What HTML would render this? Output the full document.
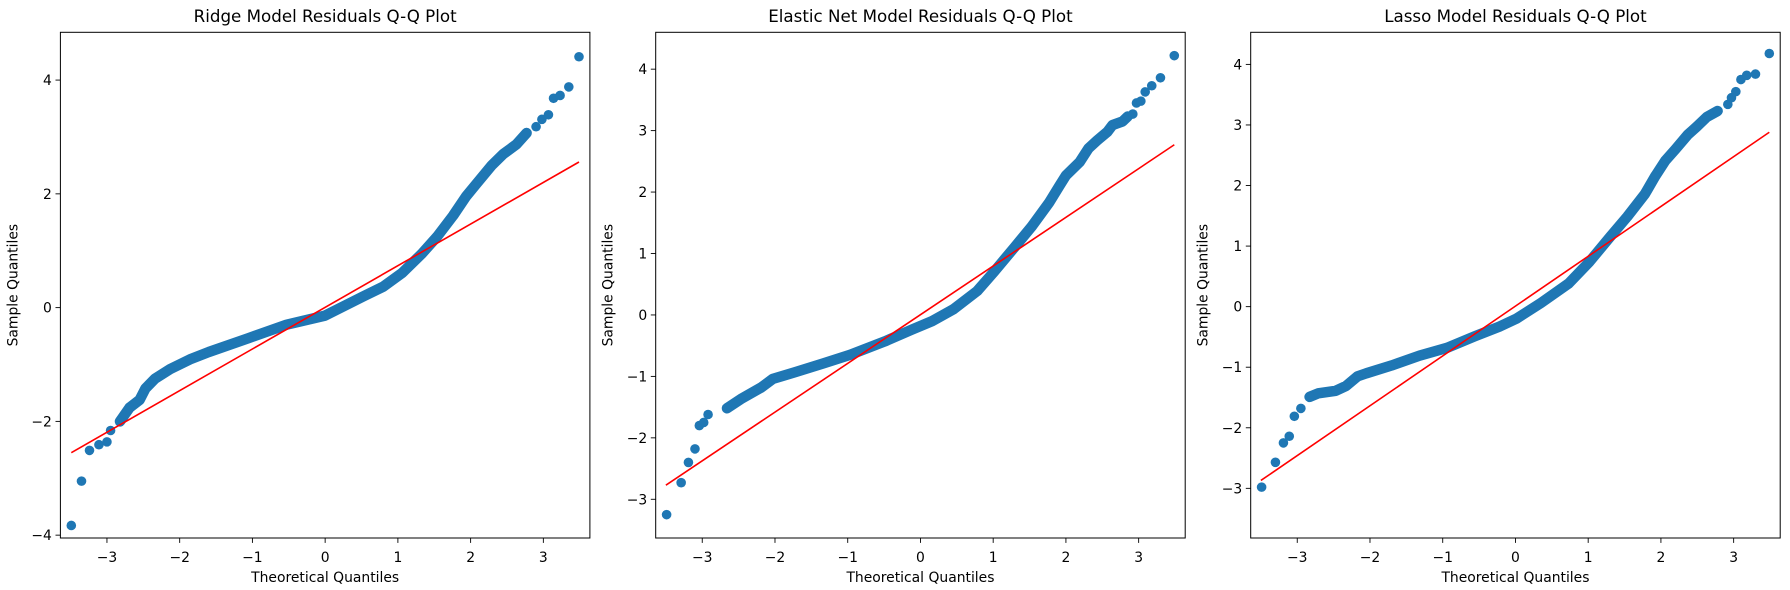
<!DOCTYPE html>
<html><head><meta charset="utf-8"><style>
html,body{margin:0;padding:0;background:#fff;}
svg{display:block;font-family:"DejaVu Sans","Liberation Sans",sans-serif;}
</style></head><body>
<svg id="fig" width="1790" height="590" viewBox="0 0 1790 590" xmlns="http://www.w3.org/2000/svg"></svg>
<script>
// ---- data ----
const panelTitles = ["Ridge Model Residuals Q-Q Plot","Elastic Net Model Residuals Q-Q Plot","Lasso Model Residuals Q-Q Plot"];
const panelNames = ["ridge","elastic-net","lasso"];
const xTicks = [-3,-2,-1,0,1,2,3];
const yTicksRidge = [-4,-2,0,2,4];
const yTicksElastic = [-3,-2,-1,0,1,2,3,4];
const yTicksLasso = [-3,-2,-1,0,1,2,3,4];
const ridgeX = [-3.49,-3.35,-3.24,-3.11,-3.0,-2.95,-2.82,-2.69,-2.55,-2.47,-2.34,-2.13,-1.86,-1.60,-1.06,-0.53,0,0.53,0.80,1.06,1.33,1.54,1.76,1.94,2.07,2.29,2.45,2.63,2.77,2.90,2.98,3.07,3.14,3.23,3.35,3.49];
const ridgeY = [-3.83,-3.05,-2.51,-2.41,-2.36,-2.16,-2.0,-1.76,-1.62,-1.42,-1.25,-1.08,-0.91,-0.78,-0.54,-0.30,-0.14,0.2,0.37,0.61,0.95,1.25,1.62,1.96,2.16,2.5,2.7,2.87,3.07,3.18,3.31,3.39,3.68,3.73,3.88,4.41];
const elasticX = [-3.49,-3.29,-3.19,-3.1,-3.04,-2.98,-2.92,-2.66,-2.47,-2.19,-2.03,-1.72,-1.34,-0.97,-0.49,-0.12,0.16,0.45,0.78,1.01,1.30,1.53,1.77,1.91,2.0,2.19,2.31,2.43,2.57,2.64,2.78,2.85,2.92,2.97,3.03,3.09,3.18,3.30,3.49];
const elasticY = [-3.25,-2.73,-2.40,-2.18,-1.80,-1.75,-1.62,-1.52,-1.37,-1.18,-1.04,-0.93,-0.79,-0.65,-0.43,-0.24,-0.10,0.09,0.39,0.70,1.11,1.44,1.83,2.10,2.27,2.49,2.71,2.84,2.98,3.09,3.15,3.23,3.27,3.45,3.48,3.63,3.73,3.86,4.22];
const lassoX = [-3.49,-3.30,-3.19,-3.11,-3.04,-2.95,-2.83,-2.71,-2.47,-2.33,-2.17,-2.05,-1.70,-1.32,-0.94,-0.56,-0.22,0.01,0.35,0.73,1.01,1.30,1.54,1.78,1.92,2.06,2.20,2.37,2.49,2.63,2.78,2.92,2.97,3.03,3.10,3.18,3.30,3.49];
const lassoY = [-2.98,-2.57,-2.25,-2.14,-1.81,-1.68,-1.49,-1.43,-1.39,-1.31,-1.15,-1.10,-0.97,-0.81,-0.68,-0.49,-0.33,-0.20,0.06,0.38,0.73,1.15,1.49,1.86,2.15,2.41,2.60,2.84,2.97,3.13,3.23,3.34,3.45,3.55,3.75,3.82,3.84,4.18];
const ridgeLine = [-3.49,-2.55,3.49,2.56];
const elasticLine = [-3.5,-2.77,3.49,2.77];
const lassoLine = [-3.5,-2.87,3.49,2.88];

const NS="http://www.w3.org/2000/svg";
const svg=document.getElementById('fig');
function mk(tag,attrs,parent){const e=document.createElementNS(NS,tag);for(const k in attrs)e.setAttribute(k,attrs[k]);(parent||svg).appendChild(e);return e;}
const fmt=v=>v<0?"\u2212"+Math.abs(v):String(v);

const panels=[
 {left:60.4, xs:ridgeX, ys:ridgeY, line:ridgeLine, yt:yTicksRidge, ylim:[-4.05,4.84]},
 {left:655.7, xs:elasticX, ys:elasticY, line:elasticLine, yt:yTicksElastic, ylim:[-3.63,4.6]},
 {left:1250.7, xs:lassoX, ys:lassoY, line:lassoLine, yt:yTicksLasso, ylim:[-3.82,4.53]}
];
const W=529.5, TOP=32.3, BOT=538, XL=[-3.64,3.64];

panels.forEach((p,i)=>{
  const g=mk('g',{});
  
  
  const sx=v=>p.left+(v-XL[0])/(XL[1]-XL[0])*W;
  const sy=v=>BOT-(v-p.ylim[0])/(p.ylim[1]-p.ylim[0])*(BOT-TOP);
  const cx=p.left+W/2;
  const t=mk('text',{x:cx,y:22,'text-anchor':'middle','font-size':'16.7px',fill:'#000'},g);
  t.textContent=panelTitles[i];
  
  
  xTicks.forEach(v=>{
    const x=sx(v);
    const tk=mk('line',{x1:x,x2:x,y1:BOT,y2:BOT+4.9,stroke:'#000','stroke-width':0.9},g);
    
    
    const tl=mk('text',{x:x,y:BOT+24,'text-anchor':'middle','font-size':'13.9px',fill:'#000'},g);
    tl.textContent=fmt(v);
    
    
  });
  p.yt.forEach(v=>{
    const y=sy(v);
    const tk=mk('line',{x1:p.left-4.9,x2:p.left,y1:y,y2:y,stroke:'#000','stroke-width':0.9},g);
    
    
    const tl=mk('text',{x:p.left-8.5,y:y+5,'text-anchor':'end','font-size':'13.9px',fill:'#000'},g);
    tl.textContent=fmt(v);
    
    
  });
  const xl=mk('text',{x:cx,y:582,'text-anchor':'middle','font-size':'13.9px',fill:'#000'},g);
  xl.textContent='Theoretical Quantiles';
  
  
  const yx=p.left-43, yy=(TOP+BOT)/2;
  const yl=mk('text',{x:yx,y:yy,'text-anchor':'middle','font-size':'13.9px',fill:'#000',transform:`rotate(-90 ${yx} ${yy})`},g);
  yl.textContent='Sample Quantiles';
  
  
  let pts=[];
  p.xs.forEach((v,j)=>{ if(v>-2.9&&v<2.9) pts.push(sx(v).toFixed(1)+','+sy(p.ys[j]).toFixed(1)); });
  const band=mk('polyline',{points:pts.join(' '),fill:'none',stroke:'#1f77b4','stroke-width':10.5,'stroke-linejoin':'round','stroke-linecap':'round'},g);
  
  
  p.xs.forEach((v,j)=>{
    const c=mk('circle',{cx:sx(v),cy:sy(p.ys[j]),r:4.8,fill:'#1f77b4'},g);
    
    
  });
  const ln=mk('line',{x1:sx(p.line[0]),y1:sy(p.line[1]),x2:sx(p.line[2]),y2:sy(p.line[3]),stroke:'#ff0000','stroke-width':1.6},g);
  
  
  const fr=mk('rect',{x:p.left,y:TOP,width:W,height:BOT-TOP,fill:'none',stroke:'#000','stroke-width':1},g);
  
  
});
</script>
</body></html>
